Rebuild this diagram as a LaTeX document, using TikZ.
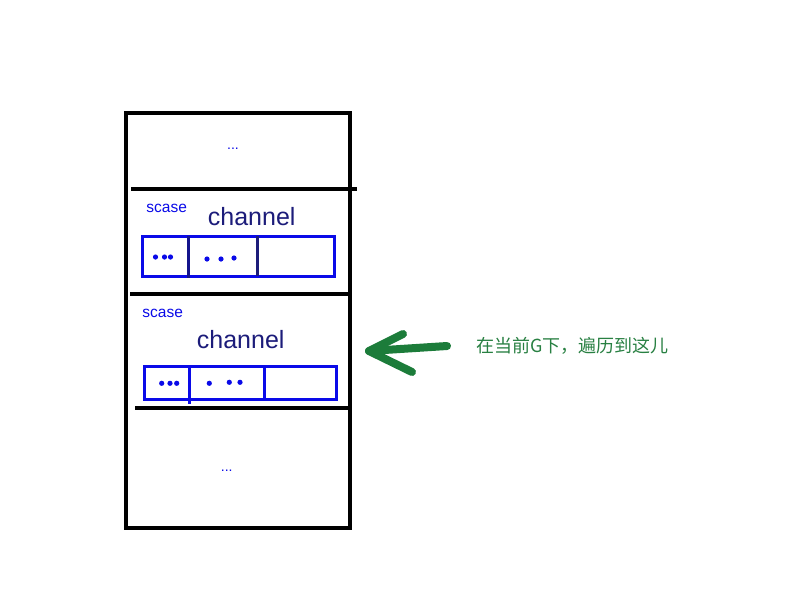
\documentclass[tikz,border=0pt]{standalone}
\usepackage{fontspec}
\setmainfont{Liberation Sans}
\newfontfamily\cjk{Noto Sans CJK SC}
\definecolor{bblue}{RGB}{10,10,232}
\definecolor{navy}{RGB}{28,28,122}
\definecolor{dnavy}{RGB}{20,20,140}
\definecolor{dgreen}{RGB}{28,124,58}
\definecolor{tgreen}{RGB}{40,128,66}
\begin{document}
\begin{tikzpicture}[x=1pt,y=-1pt,
  frame/.style={line width=3.5pt,black},
  cellrow/.style={draw=bblue,line width=3pt,inner sep=0pt,minimum width=192pt},
  celldiv/.style={line width=3pt},
  dot/.style={fill=bblue},
  scasetxt/.style={text=bblue,inner sep=0pt,font=\fontsize{15.5}{18}\selectfont},
  chantxt/.style={text=navy,inner sep=0pt,font=\fontsize{25}{30}\selectfont},
  ellip/.style={text=bblue,inner sep=0pt,font=\fontsize{14}{16}\selectfont},
  notetxt/.style={text=tgreen,inner sep=0pt,anchor=west,font=\cjk\fontsize{18}{22}\selectfont},
  arrowstroke/.style={draw=dgreen,line width=8pt,line cap=round,line join=round}]
\useasboundingbox (0,0) rectangle (800,600);
\fill[white] (0,0) rectangle (800,600);
% outer frame and separators
\draw[frame] (126,113) rectangle (350,528);
\draw[frame] (131,189) -- (357,189);
\draw[frame] (130,294) -- (350,294);
\draw[frame] (135,408) -- (350,408);
% top ellipsis
\node[ellip] (e1) at (233,149) {...};
% section 1
\node[scasetxt] (s1) at (166.7,208) {scase};
\node[chantxt] (c1) at (251.7,216.5) {channel};
\node[cellrow,minimum height=40pt] (r1) at (238.3,256) {};
\draw[celldiv,dnavy] (188,236) -- (188,278);
\draw[celldiv,navy] (257.3,236) -- (257.3,276);
\fill[dot] (155.5,257) circle (2.6) (164.5,257) circle (2.6) (170.5,257) circle (2.6);
\fill[dot] (207,259) circle (2.6) (221,259) circle (2.6) (234,258) circle (2.6);
% section 2
\node[scasetxt] (s2) at (162.7,313.3) {scase};
\node[chantxt] (c2) at (240.7,339.5) {channel};
\node[cellrow,minimum height=33pt] (r2) at (240.3,382.7) {};
\draw[celldiv,bblue] (189,366) -- (189,404);
\draw[celldiv,bblue] (264,366) -- (264,399);
\fill[dot] (161.7,383.3) circle (2.6) (170,383.3) circle (2.6) (176.7,383.3) circle (2.6);
\fill[dot] (209.3,383.3) circle (2.6) (229.3,382.3) circle (2.6) (240,382.3) circle (2.6);
% bottom ellipsis
\node[ellip] (e2) at (226.7,471) {...};
% green arrow and note
\node[notetxt] (note) at (476,346) {在当前G下，遍历到这儿};
\coordinate (tip) at (369,351);
\coordinate (tail) at (447,346);
\draw[arrowstroke] (tail) -- (tip);
\draw[arrowstroke] (403,334) -- (tip) -- (412,372);
\end{tikzpicture}
\end{document}
